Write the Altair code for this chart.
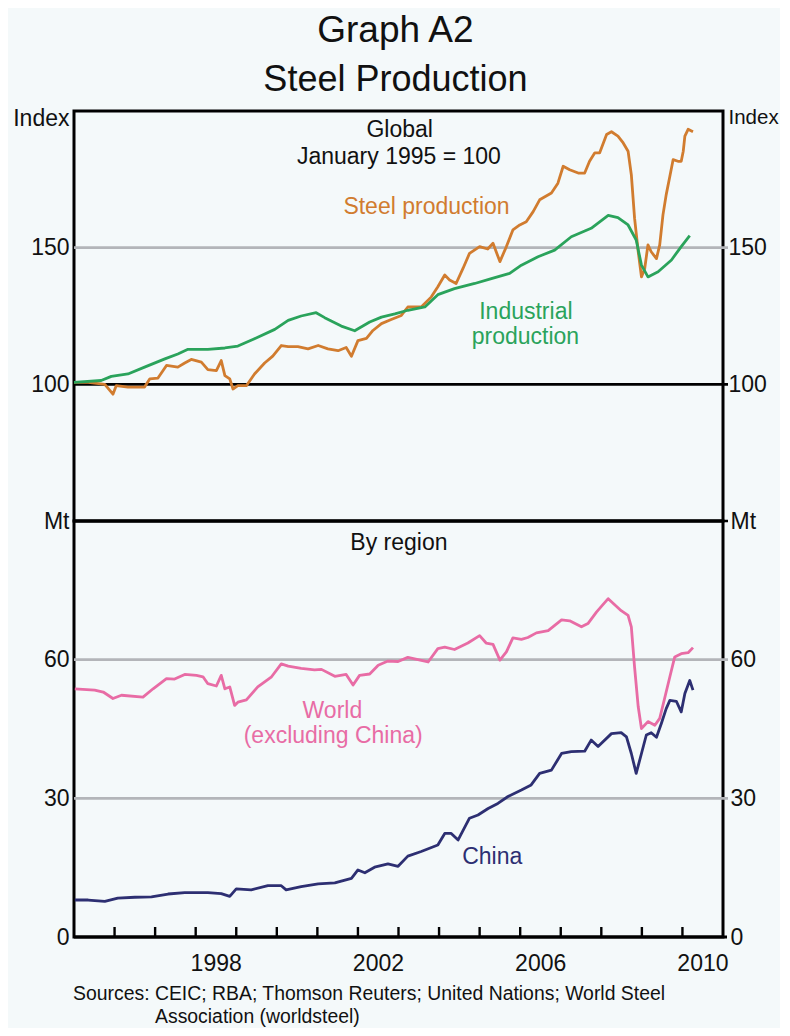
import altair as alt
import pandas as pd

# ---------------- data ----------------
steel = [(1995.00,100.7),(1995.35,100.7),(1995.76,100.0),(1995.96,96.4),(1996.04,99.5),(1996.33,99.0),
         (1996.74,99.0),(1996.87,102.0),(1997.07,102.3),(1997.28,106.9),(1997.56,106.3),(1997.73,107.8),
         (1997.89,109.1),(1998.14,108.1),(1998.30,105.4),(1998.51,105.0),(1998.63,108.7),(1998.72,103.2),
         (1998.84,102.0),(1998.92,98.3),(1999.04,99.5),(1999.25,99.5),(1999.45,103.8),(1999.70,107.8),
         (1999.90,110.3),(2000.11,114.2),(2000.28,113.8),(2000.52,113.8),(2000.77,113.0),(2001.02,114.2),
         (2001.26,113.0),(2001.51,112.3),(2001.71,113.5),(2001.84,110.3),(2002.00,116.0),(2002.21,116.8),
         (2002.37,119.7),(2002.58,122.2),(2002.82,123.7),(2003.07,125.2),(2003.23,128.3),(2003.56,128.3),
         (2003.81,132.0),(2003.97,135.7),(2004.14,140.0),(2004.26,138.2),(2004.42,136.9),(2004.59,142.4),
         (2004.75,147.9),(2005.00,150.4),(2005.20,149.5),(2005.33,151.6),(2005.50,144.9),(2005.66,150.4),
         (2005.82,156.5),(2005.99,158.3),(2006.15,159.5),(2006.32,163.2),(2006.48,167.5),(2006.77,170.0),
         (2006.93,173.6),(2007.06,179.8),(2007.22,178.5),(2007.43,177.3),(2007.59,177.3),(2007.71,181.6),
         (2007.84,184.7),(2007.96,184.7),(2008.13,191.4),(2008.25,192.4),(2008.41,190.8),(2008.54,188.3),
         (2008.66,185.3),(2008.74,176.7),(2008.82,160.8),(2008.91,148.5),(2008.99,139.3),(2009.07,142.4),
         (2009.15,151.0),(2009.23,148.5),(2009.36,146.0),(2009.44,151.0),(2009.52,162.0),(2009.60,169.4),
         (2009.69,176.1),(2009.77,182.2),(2009.89,181.6),(2009.97,181.6),(2010.02,185.3),(2010.06,190.8),
         (2010.14,193.3),(2010.26,192.4)]

industrial = [(1995.00,100.7),(1995.67,101.4),(1995.92,102.9),(1996.33,103.8),(1996.74,106.3),(1997.24,109.3),
              (1997.56,111.1),(1997.81,112.8),(1998.30,112.8),(1998.72,113.3),(1999.04,114.0),(1999.45,116.7),
              (1999.95,120.1),(2000.28,123.4),(2000.60,125.0),(2000.97,126.2),(2001.18,124.4),(2001.59,121.3),
              (2001.92,119.6),(2002.29,122.8),(2002.58,124.6),(2002.91,125.8),(2003.23,127.1),(2003.65,128.3),
              (2003.97,132.8),(2004.38,135.0),(2004.88,136.9),(2005.29,138.7),(2005.74,140.6),(2006.03,143.6),
              (2006.44,146.7),(2006.85,149.1),(2007.26,154.0),(2007.75,157.1),(2008.17,161.8),(2008.41,161.0),
              (2008.66,158.3),(2008.86,152.8),(2008.99,143.6),(2009.15,139.3),(2009.40,141.2),(2009.73,145.5),
              (2009.97,150.4),(2010.18,154.4)]

world = [(1995.02,53.7),(1995.51,53.4),(1995.72,53.0),(1995.96,51.6),(1996.17,52.3),(1996.70,51.9),
         (1996.95,53.7),(1997.28,55.9),(1997.48,55.8),(1997.73,56.8),(1998.02,56.6),(1998.18,56.3),
         (1998.30,54.8),(1998.51,54.3),(1998.63,56.6),(1998.72,53.7),(1998.84,54.1),(1998.96,50.1),
         (1999.04,50.8),(1999.25,51.3),(1999.53,54.1),(1999.87,56.3),(2000.11,59.1),(2000.28,58.6),
         (2000.60,58.1),(2000.93,57.8),(2001.10,57.9),(2001.43,56.4),(2001.71,56.8),(2001.88,54.5),
         (2002.04,56.6),(2002.29,56.9),(2002.50,58.8),(2002.74,59.7),(2002.99,59.6),(2003.23,60.5),
         (2003.73,59.5),(2003.97,62.4),(2004.14,62.7),(2004.38,62.2),(2004.71,63.6),(2005.00,65.2),
         (2005.16,63.6),(2005.33,63.3),(2005.50,59.9),(2005.66,61.7),(2005.82,64.7),(2006.03,64.4),
         (2006.19,64.8),(2006.40,65.8),(2006.69,66.3),(2007.02,68.6),(2007.22,68.4),(2007.51,67.1),
         (2007.67,67.8),(2007.88,70.3),(2008.04,71.9),(2008.17,73.2),(2008.33,71.9),(2008.49,70.6),
         (2008.66,69.6),(2008.74,67.1),(2008.82,58.4),(2008.91,49.8),(2008.99,45.1),(2009.15,46.6),
         (2009.32,45.8),(2009.44,47.3),(2009.56,51.6),(2009.69,56.3),(2009.81,60.6),(2009.97,61.3),
         (2010.14,61.5),(2010.26,62.6)]

china = [(1995.02,8.0),(1995.35,8.0),(1995.76,7.7),(1996.08,8.4),(1996.50,8.6),(1996.91,8.7),
         (1997.32,9.3),(1997.73,9.6),(1998.30,9.6),(1998.63,9.4),(1998.84,8.8),(1999.00,10.4),
         (1999.37,10.2),(1999.78,11.1),(2000.11,11.1),(2000.23,10.2),(2000.60,10.9),(2001.02,11.5),
         (2001.43,11.7),(2001.84,12.7),(2002.00,14.5),(2002.17,13.9),(2002.41,15.1),(2002.74,15.8),
         (2002.99,15.3),(2003.23,17.5),(2003.56,18.5),(2003.97,19.9),(2004.14,22.4),(2004.30,22.4),
         (2004.47,21.0),(2004.75,25.7),(2004.96,26.4),(2005.21,27.8),(2005.45,28.9),(2005.70,30.4),
         (2006.03,31.8),(2006.27,32.9),(2006.48,35.4),(2006.77,36.1),(2007.02,39.7),(2007.26,40.1),
         (2007.59,40.2),(2007.75,42.6),(2007.92,41.2),(2008.25,44.0),(2008.49,44.2),(2008.62,43.3),
         (2008.74,39.7),(2008.86,35.4),(2008.99,39.7),(2009.11,43.7),(2009.23,44.2),(2009.36,43.2),
         (2009.48,46.2),(2009.60,49.4),(2009.69,51.2),(2009.85,51.0),(2009.97,48.7),(2010.06,52.7),
         (2010.18,55.5),(2010.26,53.4)]

year_ticks = list(range(1996, 2011))
year_labels = [1998, 2002, 2006, 2010]
top_ticks = [100, 150, 200]
bottom_ticks = [0, 30, 60, 90]
top_grid = [150]
top_black = [100, 50]
bottom_grid = [60, 30]
bottom_black = [0]

top_notes = [("Global", 2003.03, 192.9, "note"),
             ("January 1995 = 100", 2003.01, 183.2, "note"),
             ("Steel production", 2003.69, 165.0, "Steel production"),
             ("Industrial", 2006.14, 126.4, "Industrial production"),
             ("production", 2006.13, 117.2, "Industrial production")]
bottom_notes = [("By region", 2003.01, 85.2, "note"),
                ("World", 2001.37, 49.0, "World"),
                ("(excluding China)", 2001.39, 43.4, "World"),
                ("China", 2005.31, 17.2, "China")]

title_text = "Graph A2"
subtitle_text = "Steel Production"
sources_lines = ["Sources: CEIC; RBA; Thomson Reuters; United Nations; World Steel",
                 "Association (worldsteel)"]

# ---------------- styling ----------------
FONT = "Liberation Sans"
W, H1, H2 = 649, 410, 416
GRID = "#B3B5B9"
BG = "#F4F9FA"
kinds = ["Steel production", "Industrial production", "World", "China", "note"]
kind_colors = ["#D17C2F", "#2AA35B", "#E86CA5", "#2D2F72", "#111111"]
COLOR = lambda: alt.Color("kind:N", scale=alt.Scale(domain=kinds, range=kind_colors), legend=None)


def series_df(pairs, kind):
    return pd.DataFrame({"t": [p[0] for p in pairs], "v": [p[1] for p in pairs], "kind": kind})


def notes_df(notes):
    return pd.DataFrame(notes, columns=["label", "t", "v", "kind"])


def yenc(domain, axis=None):
    return alt.Y("v:Q", scale=alt.Scale(domain=domain, nice=False, zero=False), axis=axis, title=None)


def yaxis(orient, values, unit_value, unit_text, pad, unit_top, unit_size=23):
    test = f"datum.value == {unit_value}"
    kw = dict(orient=orient, values=values,
              labelExpr=f"{test} ? '{unit_text}' : datum.label",
              domain=False, ticks=False, grid=False, labelPadding=pad,
              labelFont=FONT, labelColor="#111111", labelFlush=False, labelOverlap=False,
              labelBound=False, title=None)
    if unit_size != 23:
        kw["labelFontSize"] = {"condition": {"test": test, "value": unit_size}, "value": 23}
    else:
        kw["labelFontSize"] = 23
    if unit_top:
        kw["labelBaseline"] = {"condition": {"test": test, "value": "top"}, "value": "middle"}
        kw["labelOffset"] = {"condition": {"test": test, "value": -4}, "value": 0}
    return alt.Axis(**kw)


xscale = alt.Scale(domain=[1995, 2011], nice=False, zero=False)
XT = alt.X("t:Q", scale=xscale, axis=None, title=None)
xaxis = alt.Axis(orient="bottom", values=list(range(1995, 2012)),
                 labelExpr=f"indexof({year_labels}, datum.value) >= 0 ? toString(datum.value) : ''",
                 ticks=False, tickSize=0, domain=False, grid=False, labelPadding=15, labelOffset=20,
                 labelFlush=False, labelOverlap=False, labelBound=False, labelFontSize=23,
                 labelFont=FONT, labelColor="#111111", title=None)
XB = alt.X("t:Q", scale=xscale, axis=xaxis, title=None)

TOP_D = [50, 200]
BOT_D = [0, 90]

# ---------------- top panel ----------------
t_grid = alt.Chart(pd.DataFrame({"v": top_grid})).mark_rule(color=GRID, strokeWidth=2.6).encode(
    y=yenc(TOP_D, yaxis("left", top_ticks, 200, "Index", 5, True)),
    x=alt.value(0), x2=alt.value(W + 5))
t_black = alt.Chart(pd.DataFrame({"v": top_black})).mark_rule(color="black", strokeWidth=2.6).encode(
    y=yenc(TOP_D), x=alt.value(0), x2=alt.value(W + 5))
t_lines = alt.Chart(pd.concat([series_df(steel, "Steel production"),
                               series_df(industrial, "Industrial production")])).mark_line(
    strokeWidth=2.8, strokeJoin="round").encode(
    x=XT, y=yenc(TOP_D, yaxis("right", top_ticks, 200, "Index", 5, True, 20.5)), color=COLOR(),
    detail="kind:N")
t_notes = alt.Chart(notes_df(top_notes)).mark_text(font=FONT, fontSize=23, align="center",
                                                   baseline="middle").encode(
    x=XT, y=yenc(TOP_D), text="label:N", color=COLOR())
top = alt.layer(t_grid, t_black, t_lines, t_notes).resolve_scale(y="independent").properties(
    width=W, height=H1)

# ---------------- bottom panel ----------------
b_grid = alt.Chart(pd.DataFrame({"v": bottom_grid})).mark_rule(color=GRID, strokeWidth=2.6).encode(
    y=yenc(BOT_D, yaxis("left", bottom_ticks, 90, "Mt", 5, False)),
    x=alt.value(0), x2=alt.value(W + 5))
b_black = alt.Chart(pd.DataFrame({"v": bottom_black})).mark_rule(color="black", strokeWidth=3).encode(
    y=yenc(BOT_D), x=alt.value(0), x2=alt.value(W + 4))
b_ticks = alt.Chart(pd.DataFrame({"t": year_ticks})).mark_rule(color="black", strokeWidth=2.4).encode(
    x=XB, y=alt.value(H2), y2=alt.value(H2 - 10))
b_lines = alt.Chart(pd.concat([series_df(world, "World"), series_df(china, "China")])).mark_line(
    strokeWidth=2.8, strokeJoin="round").encode(
    x=XB, y=yenc(BOT_D, yaxis("right", bottom_ticks, 90, "Mt", 7, False)), color=COLOR(),
    detail="kind:N")
b_notes = alt.Chart(notes_df(bottom_notes)).mark_text(font=FONT, fontSize=23, align="center",
                                                      baseline="middle").encode(
    x=XB, y=yenc(BOT_D), text="label:N", color=COLOR())
src1 = alt.Chart(pd.DataFrame({"label": [sources_lines[0]]})).mark_text(
    font=FONT, fontSize=19.4, align="left", baseline="middle", color="#111111").encode(
    text="label:N", x=alt.value(-1), y=alt.value(H2 + 57))
src2 = alt.Chart(pd.DataFrame({"label": [sources_lines[1]]})).mark_text(
    font=FONT, fontSize=19.4, align="left", baseline="middle", color="#111111").encode(
    text="label:N", x=alt.value(81), y=alt.value(H2 + 80))
bottom = alt.layer(b_grid, b_black, b_ticks, b_lines, b_notes, src1, src2).resolve_scale(
    y="independent").properties(width=W, height=H2)

chart = alt.vconcat(top, bottom, spacing=0, bounds="flush").properties(
    title=alt.TitleParams(text=title_text, subtitle=subtitle_text, font=FONT, subtitleFont=FONT,
                          fontSize=37, subtitleFontSize=36, fontWeight="normal",
                          subtitleFontWeight="normal", color="#111111", subtitleColor="#111111",
                          anchor="middle", offset=7, subtitlePadding=13),
    padding={"left": 3, "top": 3, "right": 0, "bottom": 0},
    background=BG,
).configure_view(stroke="black", strokeWidth=3)

chart.save("out.html", embed_options={"renderer": "svg", "actions": False})
